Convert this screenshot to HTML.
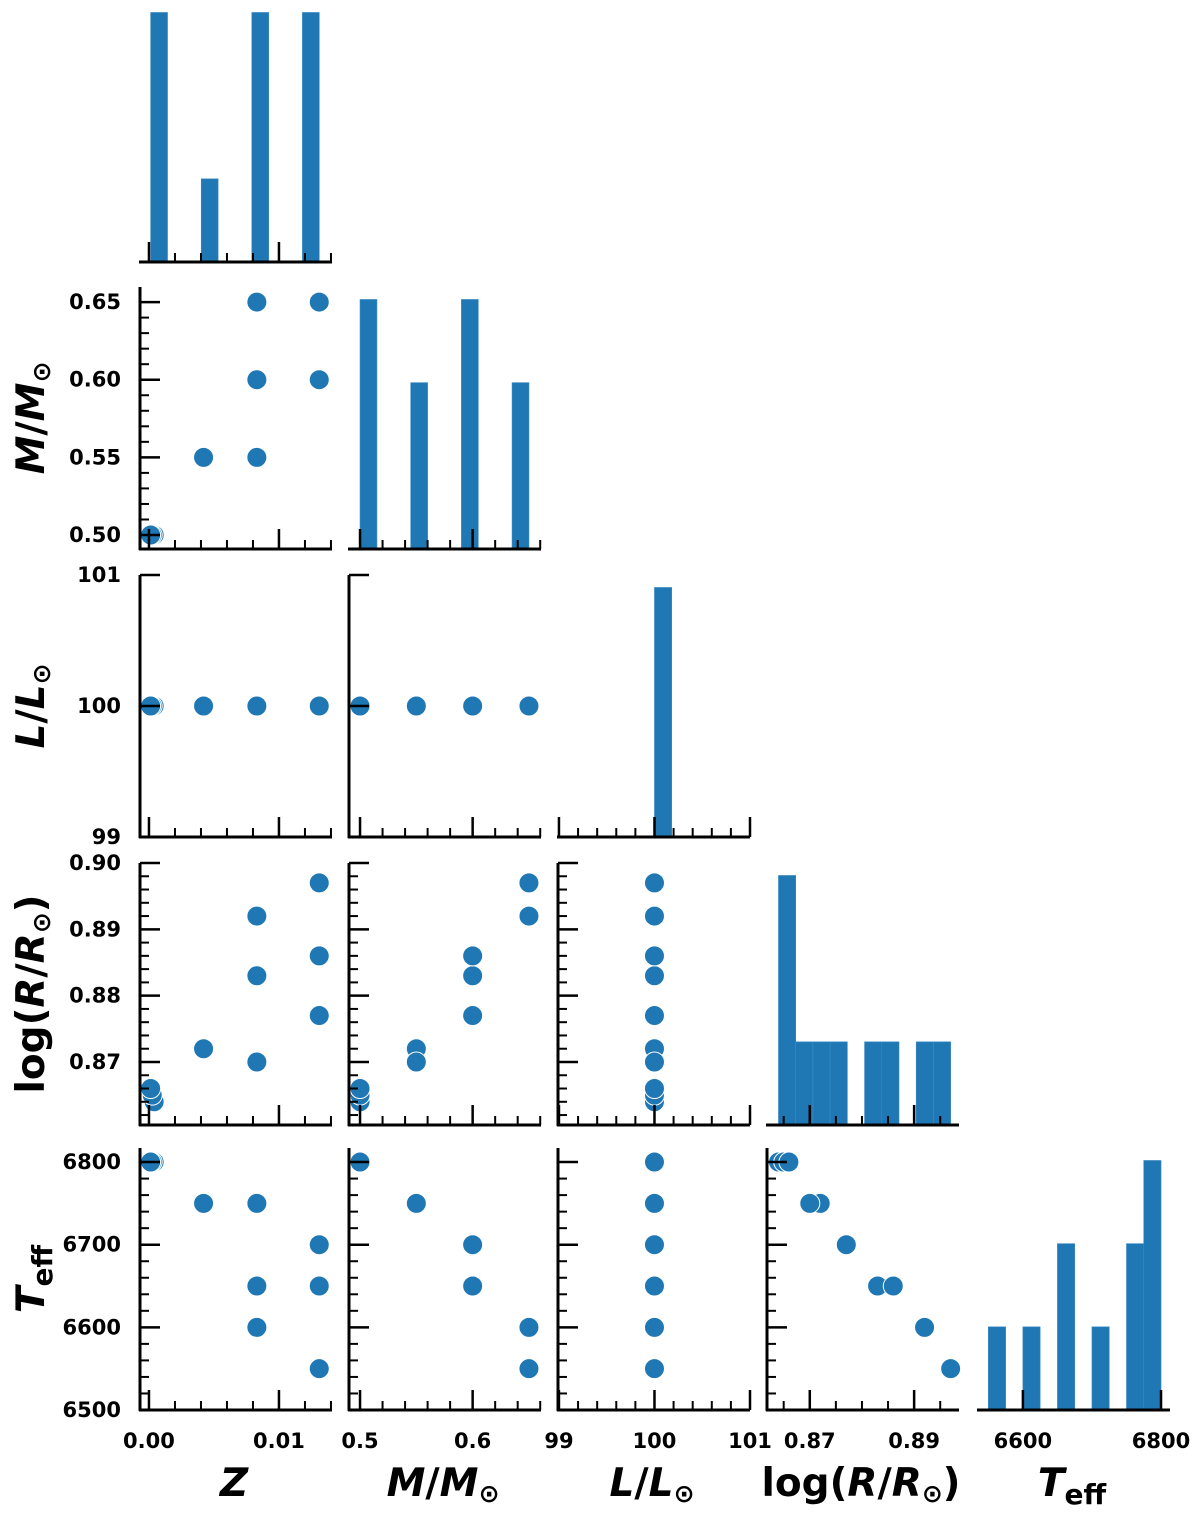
<!DOCTYPE html>
<html><head><meta charset="utf-8">
<style>
html,body{margin:0;padding:0;background:#fff;}
svg{display:block;}
text{font-family:"DejaVu Sans","Liberation Sans",sans-serif;font-weight:bold;fill:#000;}
</style></head>
<body>
<svg id="chart" width="1200" height="1520" viewBox="0 0 1200 1520" xmlns="http://www.w3.org/2000/svg"></svg>
<script>
// ---- data (one entry per model) ----
const zVals = [0.0004, 0.00025, 0.00013, 0.0042, 0.0083, 0.0083, 0.0083, 0.0131, 0.0131, 0.0131];
const mVals = [0.5, 0.5, 0.5, 0.55, 0.55, 0.6, 0.65, 0.6, 0.6, 0.65];
const lVals = [100, 100, 100, 100, 100, 100, 100, 100, 100, 100];
const rVals = [0.864, 0.865, 0.866, 0.872, 0.870, 0.883, 0.892, 0.877, 0.886, 0.897];
const tVals = [6800, 6800, 6800, 6750, 6750, 6650, 6600, 6700, 6650, 6550];
const varNames = ["z", "mass", "luminosity", "log-radius", "teff"];
const zTickLabels = ["0.00", "0.01"];
const mTickLabelsX = ["0.5", "0.6"];
const mTickLabelsY = ["0.50", "0.55", "0.60", "0.65"];
const lTickLabels = ["99", "100", "101"];
const rTickLabelsX = ["0.87", "0.89"];
const rTickLabelsY = ["0.87", "0.88", "0.89", "0.90"];
const tTickLabelsX = ["6600", "6800"];
const tTickLabelsY = ["6500", "6600", "6700", "6800"];

const data = [zVals, mVals, lVals, rVals, tVals];
const NS = "http://www.w3.org/2000/svg";
const svg = document.getElementById("chart");
const BLUE = "#1f77b4";
const colLeft = [140, 349, 558, 767, 978];
const rowTop = [0, 287, 575, 863, 1148];
const W = 192, H = 262;
const xDom = [[-0.00069, 0.01408], [0.4902, 0.6607], [98.99, 101.0], [0.8618, 0.8986], [6535, 6813]];
const yDom = [null, [0.491, 0.6597], [99, 101], [0.8605, 0.9], [6500, 6817]];
const xMajor = [[0, 0.01], [0.5, 0.6], [99, 100, 101], [0.87, 0.89], [6600, 6800]];
const xMinorStep = [0.002, 0.02, 0.2, 0.005, 0];
const yMajor = [null, [0.5, 0.55, 0.6, 0.65], [99, 100, 101], [0.87, 0.88, 0.89, 0.9], [6500, 6600, 6700, 6800]];
const yMinorStep = [0, 0.01, 0, 0.002, 20];
const xLabels = [zTickLabels, mTickLabelsX, lTickLabels, rTickLabelsX, tTickLabelsX];
const yLabels = [null, mTickLabelsY, lTickLabels, rTickLabelsY, tTickLabelsY];

function xs(c, v) { const d = xDom[c]; return colLeft[c] + (v - d[0]) / (d[1] - d[0]) * W; }
function ys(r, v) { const d = yDom[r]; return rowTop[r] + H - (v - d[0]) / (d[1] - d[0]) * H; }
function mk(tag, attrs, parent) {
  const e = document.createElementNS(NS, tag);
  for (const k in attrs) e.setAttribute(k, attrs[k]);
  (parent || svg).appendChild(e);
  return e;
}
function minorList(dom, step) {
  const out = [];
  if (!step) return out;
  const s = Math.ceil(dom[0] / step - 1e-6);
  for (let k = s; k * step <= dom[1] + 1e-9; k++) out.push(+(k * step).toFixed(6));
  return out;
}

function drawXAxis(g, r, c) {
  const yb = rowTop[r] + H;
  const sp = mk("line", {x1: colLeft[c] - 1, x2: colLeft[c] + W, y1: yb, y2: yb, stroke: "#000", "stroke-width": 3}, g);
  
  
  const maj = xMajor[c];
  minorList(xDom[c], xMinorStep[c]).forEach(v => {
    if (maj.some(m => Math.abs(m - v) < 1e-7)) return;
    const x = xs(c, v);
    if (x < colLeft[c] + 1 || x > colLeft[c] + W + 0.5) return;
    const t = mk("line", {x1: x, x2: x, y1: yb, y2: yb - 9, stroke: "#000", "stroke-width": 2}, g);
    
    
  });
  maj.forEach((v, i) => {
    const x = xs(c, v);
    const t = mk("line", {x1: x, x2: x, y1: yb, y2: yb - 20, stroke: "#000", "stroke-width": 2.5}, g);
    
    
    if (r === 4) {
      const tx = mk("text", {x: x, y: 1448, "font-size": 21, "text-anchor": "middle"}, g);
      tx.textContent = xLabels[c][i];
      
      
    }
  });
}
function drawYAxis(g, r, c) {
  const xl = colLeft[c];
  const sp = mk("line", {x1: xl, x2: xl, y1: rowTop[r], y2: rowTop[r] + H + 1, stroke: "#000", "stroke-width": 3}, g);
  
  
  const maj = yMajor[r];
  minorList(yDom[r], yMinorStep[r]).forEach(v => {
    if (maj.some(m => Math.abs(m - v) < 1e-7)) return;
    const y = ys(r, v);
    if (y < rowTop[r] - 0.5 || y > rowTop[r] + H - 1) return;
    const t = mk("line", {x1: xl, x2: xl + 9, y1: y, y2: y, stroke: "#000", "stroke-width": 2}, g);
    
    
  });
  maj.forEach((v, i) => {
    const y = ys(r, v);
    const t = mk("line", {x1: xl, x2: xl + 20, y1: y, y2: y, stroke: "#000", "stroke-width": 2.5}, g);
    
    
    if (c === 0) {
      const tx = mk("text", {x: 121, y: y + 7, "font-size": 21, "text-anchor": "end"}, g);
      tx.textContent = yLabels[r][i];
      
      
    }
  });
}

for (let r = 0; r < 5; r++) {
  for (let c = 0; c <= r; c++) {
    const g = mk("g", {});
    
    
    if (r === c) {
      const vals = data[c];
      let lo = Math.min(...vals), hi = Math.max(...vals);
      if (hi - lo < 1e-12) { hi = lo + 1.8; }
      const nb = 10, bw = (hi - lo) / nb;
      const counts = new Array(nb).fill(0);
      vals.forEach(v => { let k = Math.floor((v - lo) / bw + 1e-9); if (k >= nb) k = nb - 1; if (k < 0) k = 0; counts[k]++; });
      const ymax = Math.max(...counts) * 1.05;
      counts.forEach((n, k) => {
        if (!n) return;
        const x0 = xs(c, lo + k * bw), x1 = xs(c, lo + (k + 1) * bw);
        const h = n / ymax * H;
        const b = mk("rect", {x: x0, y: rowTop[r] + H - h, width: x1 - x0, height: h, fill: BLUE, stroke: "#3a8ac4", "stroke-width": 0.6}, g);
        
        
      });
      drawXAxis(g, r, c);
    } else {
      const xv = data[c], yv = data[r];
      xv.forEach((v, i) => {
        const p = mk("circle", {cx: xs(c, v), cy: ys(r, yv[i]), r: 10, fill: BLUE, stroke: "#fff", "stroke-width": 1}, g);
        
        
      });
      drawXAxis(g, r, c);
      drawYAxis(g, r, c);
    }
  }
}

const xTitles = [
  ['<tspan font-style="italic">Z</tspan>', 'x-axis-title-z'],
  ['<tspan font-style="italic">M</tspan>/<tspan font-style="italic">M</tspan><tspan font-size="25" dy="6">⊙</tspan>', 'x-axis-title-mass'],
  ['<tspan font-style="italic">L</tspan>/<tspan font-style="italic">L</tspan><tspan font-size="25" dy="6">⊙</tspan>', 'x-axis-title-luminosity'],
  ['log(<tspan font-style="italic">R</tspan>/<tspan font-style="italic">R</tspan><tspan font-size="25" dy="6">⊙</tspan><tspan dy="-6">)</tspan>', 'x-axis-title-log-radius'],
  ['<tspan font-style="italic">T</tspan><tspan font-size="28" dy="8">eff</tspan>', 'x-axis-title-teff']
];
xTitles.forEach((t, c) => {
  const e = mk("text", {x: colLeft[c] + W / 2 - 2, y: 1496, "font-size": 39, "text-anchor": "middle"});
  e.innerHTML = t[0];
  
  
});
const yTitles = [null,
  ['<tspan font-style="italic">M</tspan>/<tspan font-style="italic">M</tspan><tspan font-size="25" dy="6">⊙</tspan>', 'y-axis-title-mass'],
  ['<tspan font-style="italic">L</tspan>/<tspan font-style="italic">L</tspan><tspan font-size="25" dy="6">⊙</tspan>', 'y-axis-title-luminosity'],
  ['log(<tspan font-style="italic">R</tspan>/<tspan font-style="italic">R</tspan><tspan font-size="25" dy="6">⊙</tspan><tspan dy="-6">)</tspan>', 'y-axis-title-log-radius'],
  ['<tspan font-style="italic">T</tspan><tspan font-size="28" dy="8">eff</tspan>', 'y-axis-title-teff']
];
for (let r = 1; r < 5; r++) {
  const cy = rowTop[r] + H / 2;
  const e = mk("text", {x: 0, y: 0, "font-size": 39, "text-anchor": "middle", transform: "translate(44," + cy + ") rotate(-90)"});
  e.innerHTML = yTitles[r][0];
  
  
}
</script>
</body></html>
